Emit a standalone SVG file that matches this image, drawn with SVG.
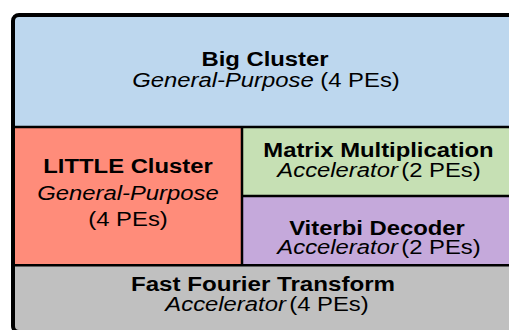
<svg xmlns="http://www.w3.org/2000/svg" width="509" height="330" viewBox="0 0 509 330">
  <style>
    .t { font-family: "Liberation Sans", Arial, sans-serif; font-size: 21px; fill: #000; text-anchor: middle; }
    .b { font-weight: bold; }
    .i { font-style: italic; }
    .div { stroke: #000; stroke-width: 2.5; fill: none; }
  </style>
  <rect width="509" height="330" fill="#fff"/>

  <!-- processing element clusters -->
  <g id="big-cluster">
    <rect x="13" y="15" width="504" height="112" fill="#BDD7EE"/>
    <text class="t b" transform="translate(265,66) scale(1.135,1)">Big Cluster</text>
    <text class="t" transform="translate(266,86.5) scale(1.135,1)"><tspan class="i">General-Purpose</tspan> (4 PEs)</text>
  </g>
  <g id="little-cluster">
    <rect x="13" y="127" width="229" height="138" fill="#FF8C7A"/>
    <text class="t b" transform="translate(128,173.3) scale(1.135,1)">LITTLE Cluster</text>
    <text class="t i" transform="translate(128,200) scale(1.135,1)">General-Purpose</text>
    <text class="t" transform="translate(128,225.5) scale(1.135,1)">(4 PEs)</text>
  </g>
  <g id="matrix-multiplication">
    <rect x="242" y="127" width="275" height="69" fill="#C6E0B4"/>
    <text class="t b" transform="translate(378.5,157.3) scale(1.135,1)">Matrix Multiplication</text>
    <text class="t" transform="translate(379,176.5) scale(1.135,1)"><tspan class="i">Accelerator</tspan><tspan dx="3">(2 PEs)</tspan></text>
  </g>
  <g id="viterbi-decoder">
    <rect x="242" y="196" width="275" height="69" fill="#C5A9DB"/>
    <text class="t b" transform="translate(377,235) scale(1.135,1)">Viterbi Decoder</text>
    <text class="t" transform="translate(379,254.3) scale(1.135,1)"><tspan class="i">Accelerator</tspan><tspan dx="3">(2 PEs)</tspan></text>
  </g>
  <g id="fft">
    <rect x="13" y="265" width="504" height="67" fill="#C0C0C0"/>
    <text class="t b" transform="translate(263,291) scale(1.15,1)">Fast Fourier Transform</text>
    <text class="t" transform="translate(267,311) scale(1.135,1)"><tspan class="i">Accelerator</tspan><tspan dx="3">(4 PEs)</tspan></text>
  </g>

  <!-- dividers between regions and the outer frame -->
  <g id="connectors">
    <line class="div" x1="13" y1="127" x2="517" y2="127"/>
    <line class="div" x1="242" y1="127" x2="242" y2="265"/>
    <line class="div" x1="242" y1="196" x2="517" y2="196"/>
    <line class="div" x1="13" y1="265.3" x2="517" y2="265.3"/>
    <rect x="13" y="15" width="504" height="317" rx="6" ry="6" fill="none" stroke="#000" stroke-width="4"/>
  </g>
</svg>
